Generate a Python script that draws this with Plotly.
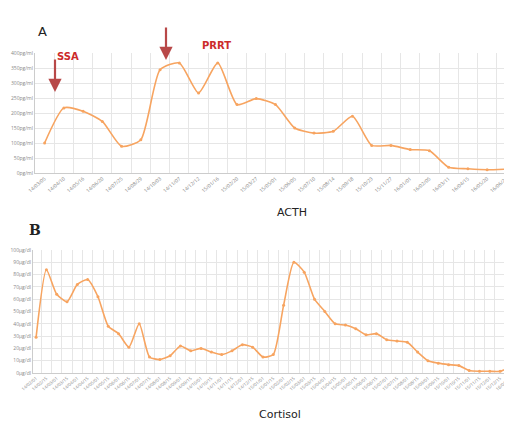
import plotly.graph_objects as go

# ---- Panel A: ACTH ----
acth_dates = ["14/03/05", "14/04/10", "14/05/16", "14/06/20", "14/07/25", "14/08/29",
              "14/10/03", "14/11/07", "14/12/12", "15/01/16", "15/02/20", "15/03/27",
              "15/05/01", "15/06/05", "15/07/10", "15/08/14", "15/09/18", "15/10/23",
              "15/11/27", "16/01/01", "16/02/05", "16/03/11", "16/04/15", "16/05/20",
              "16/06/24"]
acth_values = [100, 217, 206, 172, 89, 111, 344, 367, 267, 367, 228, 248, 228,
               150, 133, 139, 189, 92, 92, 78, 74, 19, 14, 11, 13]
acth_ticks = [0, 50, 100, 150, 200, 250, 300, 350, 400]
acth_ticklabels = ["0pg/ml", "50pg/ml", "100pg/ml", "150pg/ml", "200pg/ml",
                   "250pg/ml", "300pg/ml", "350pg/ml", "400pg/ml"]

# ---- Panel B: Cortisol ----
cort_dates = ["14/02/01", "14/02/15", "14/03/01", "14/03/15", "14/04/01", "14/04/15",
              "14/05/01", "14/05/15", "14/06/01", "14/06/15", "14/07/01", "14/07/15",
              "14/08/01", "14/08/15", "14/09/01", "14/09/15", "14/10/01", "14/10/15",
              "14/11/01", "14/11/15", "14/12/01", "14/12/15", "15/01/01", "15/01/15",
              "15/02/01", "15/02/15", "15/03/01", "15/03/15", "15/04/01", "15/04/15",
              "15/05/01", "15/05/15", "15/06/01", "15/06/15", "15/07/01", "15/07/15",
              "15/08/01", "15/08/15", "15/09/01", "15/09/15", "15/10/01", "15/10/15",
              "15/11/01", "15/11/15", "15/12/01", "15/12/15", "16/01/01"]
cort_values = [29, 84, 64, 58, 72, 76, 62, 38, 32, 21, 40, 13, 11, 14, 22, 18,
               20, 17, 15, 18, 23, 21, 13, 15, 55, 90, 82, 60, 50, 40, 39, 36,
               31, 32, 27, 26, 25, 17, 10, 8, 6.8, 6, 2, 1.4, 1.4, 1.4, 5]
cort_ticks = [0, 10, 20, 30, 40, 50, 60, 70, 80, 90, 100]
cort_ticklabels = ["0μg/dl", "10μg/dl", "20μg/dl", "30μg/dl", "40μg/dl", "50μg/dl",
                   "60μg/dl", "70μg/dl", "80μg/dl", "90μg/dl", "100μg/dl"]

LINE = "#f7a460"
GRID = "#e6e6e6"
W, H = 512, 423

fig = go.Figure()
fig.add_trace(go.Scatter(x=acth_dates, y=acth_values, mode="lines+markers",
                         line=dict(color=LINE, width=1.6, shape="spline", smoothing=0.6),
                         marker=dict(color=LINE, size=3), xaxis="x", yaxis="y",
                         showlegend=False))
fig.add_trace(go.Scatter(x=cort_dates, y=cort_values, mode="lines+markers",
                         line=dict(color=LINE, width=1.6, shape="spline", smoothing=0.6),
                         marker=dict(color=LINE, size=3), xaxis="x2", yaxis="y2",
                         showlegend=False))

axis_common = dict(showgrid=True, gridcolor=GRID, gridwidth=1, zeroline=False,
                   showline=True, linecolor="#cccccc", linewidth=1,
                   tickfont=dict(size=5, color="#888888", family="Open Sans"),
                   automargin=False, ticks="")

fig.update_layout(
    width=W, height=H, margin=dict(l=0, r=0, t=0, b=0),
    paper_bgcolor="white", plot_bgcolor="white",
    xaxis=dict(axis_common, domain=[27 / W, 508 / W], anchor="y", type="category",
               tickson="boundaries", tickangle=-40, tickmode="array",
               tickvals=acth_dates, range=[-0.5, len(acth_dates) - 0.5]),
    yaxis=dict(axis_common, domain=[1 - 165 / H, 1 - 45 / H], anchor="x",
               range=[0, 400], tickvals=acth_ticks, ticktext=acth_ticklabels),
    xaxis2=dict(axis_common, domain=[25 / W, 504 / W], anchor="y2", type="category",
                tickson="boundaries", tickangle=-40, tickmode="array",
                tickvals=cort_dates, tickfont=dict(size=4.5, color="#888888", family="Open Sans"),
                range=[-0.3, len(cort_dates) - 0.85]),
    yaxis2=dict(axis_common, domain=[1 - 365 / H, 1 - 242 / H], anchor="x2",
                range=[0, 100], tickvals=cort_ticks, ticktext=cort_ticklabels),
)

ann = []
ann.append(dict(text="A", x=28 / W, y=1 - 14 / H, xref="paper", yref="paper",
                showarrow=False, font=dict(size=13, color="#222222", family="DejaVu Sans")))
ann.append(dict(text="<b>B</b>", x=19 / W, y=1 - 222 / H, xref="paper", yref="paper",
                showarrow=False, font=dict(size=14, color="#222222", family="DejaVu Serif")))
ann.append(dict(text="<b>SSA</b>", x=47 / W, y=1 - 41 / H, xref="paper", yref="paper",
                showarrow=False, font=dict(size=10, color="#cc2b2b", family="DejaVu Sans")))
ann.append(dict(text="<b>PRRT</b>", x=208 / W, y=1 - 30 / H, xref="paper", yref="paper",
                showarrow=False, font=dict(size=10, color="#cc2b2b", family="DejaVu Sans")))
ann.append(dict(text="", x=47 / W, y=1 - 84 / H, xref="paper", yref="paper",
                showarrow=True, ax=0, ay=-34, arrowhead=2, arrowsize=1.2, arrowwidth=2.2,
                arrowcolor="#b84848"))
ann.append(dict(text="", x=158 / W, y=1 - 52 / H, xref="paper", yref="paper",
                showarrow=True, ax=0, ay=-34, arrowhead=2, arrowsize=1.2, arrowwidth=2.2,
                arrowcolor="#b84848"))
ann.append(dict(text="ACTH", x=284 / W, y=1 - 204 / H, xref="paper", yref="paper",
                showarrow=False, font=dict(size=11, color="#222222", family="DejaVu Sans")))
ann.append(dict(text="Cortisol", x=272 / W, y=1 - 415 / H, xref="paper", yref="paper",
                showarrow=False, font=dict(size=11, color="#222222", family="DejaVu Sans")))
fig.update_layout(annotations=ann)

fig.write_html("out.html")
